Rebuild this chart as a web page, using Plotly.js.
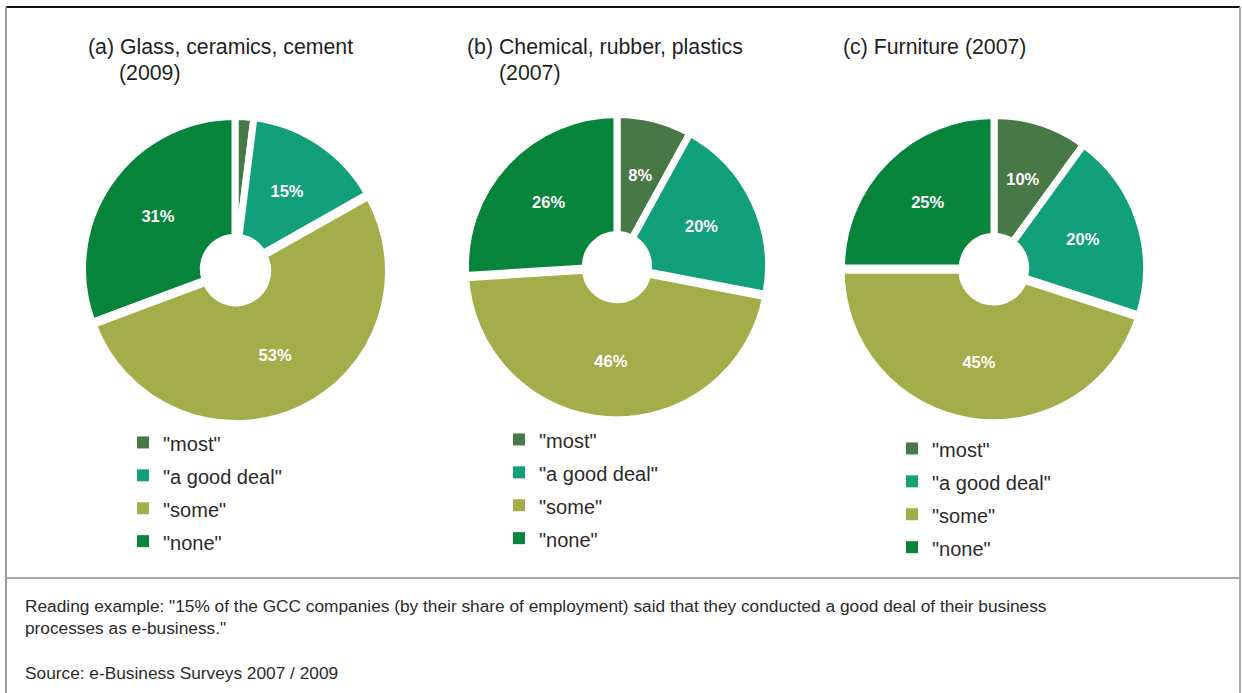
<!DOCTYPE html>
<html>
<head>
<meta charset="utf-8">
<script src="https://cdn.plot.ly/plotly-3.0.1.min.js"></script>
<style>
  html, body { margin: 0; padding: 0; background: #ffffff; }
  #chart { width: 1242px; height: 693px; }
</style>
</head>
<body>
<div id="chart"></div>
<script>
// ---- data ----
var categories = ['"most"', '"a good deal"', '"some"', '"none"'];
var valuesA = [2, 15, 53, 31];   // (a) Glass, ceramics, cement (2009) - "most" unlabelled sliver, estimated
var valuesB = [8, 20, 46, 26];   // (b) Chemical, rubber, plastics (2007)
var valuesC = [10, 20, 45, 25];  // (c) Furniture (2007)
var titleLines = [
  ['(a) Glass, ceramics, cement', '(2009)'],
  ['(b) Chemical, rubber, plastics', '(2007)'],
  ['(c) Furniture (2007)']
];
var captionLines = [
  'Reading example: "15% of the GCC companies (by their share of employment) said that they conducted a good deal of their business',
  'processes as e-business."',
  '',
  'Source: e-Business Surveys 2007 / 2009'
];

// ---- styling / layout helpers ----
var W = 1242, H = 693;
var colors = ['#487845', '#12a07b', '#a3ae4b', '#06853a'];
var FONT = 'Arial, "Liberation Sans", Helvetica, sans-serif';
function px(x) { return x / W; }
function py(y) { return 1 - y / H; }
var PULL = [0, 0, 0.015, 0];
var LINEW = 7;
var maxPull = Math.max.apply(null, PULL);
function domainFor(cx, cy, half) {
  return { x: [px(cx - half), px(cx + half)], y: [py(cy + half), py(cy - half)] };
}
var centers = [[235, 269, 149], [617, 266, 148], [994, 268, 149]];
var allValues = [valuesA, valuesB, valuesC];
var legendIds = ['legend', 'legend2', 'legend3'];
var legendLabels = categories.map(function (c) {
  return '<span style="font-size:20px">' + c + '</span>';
});
var LABEL_R = 117;   // outer radius of the (transparent) label ring
var LABEL_HOLE = 0.6;

var data = [];
allValues.forEach(function (vals, i) {
  var c = centers[i];
  var tt = vals.map(function () { return '%{value}%'; });
  if (i === 0) tt[0] = '';
  // visible donut
  data.push({
    type: 'pie',
    labels: categories,
    values: vals,
    sort: false,
    direction: 'clockwise',
    rotation: 0,
    hole: 0.208,
    pull: PULL,
    domain: domainFor(c[0], c[1], (c[2] + LINEW / 2) * (1 + maxPull)),
    marker: { colors: colors, line: { color: '#ffffff', width: LINEW } },
    textinfo: 'none',
    hoverinfo: 'label+percent',
    showlegend: false
  });
  // percentage labels, placed at mid-ring by a transparent ring of the same slices
  data.push({
    type: 'pie',
    labels: categories,
    values: vals,
    sort: false,
    direction: 'clockwise',
    rotation: 0,
    hole: LABEL_HOLE,
    pull: PULL,
    domain: domainFor(c[0], c[1], LABEL_R * (1 + maxPull)),
    marker: { colors: categories.map(function () { return 'rgba(0,0,0,0)'; }), line: { width: 0 } },
    texttemplate: tt,
    textposition: 'inside',
    insidetextorientation: 'horizontal',
    textfont: { family: FONT, size: 16.5, color: '#ffffff', weight: 'bold' },
    hoverinfo: 'skip',
    showlegend: false
  });
  // legend keys for this panel (same categories / values / colours)
  data.push({
    type: 'pie',
    labels: legendLabels,
    values: vals,
    sort: false,
    direction: 'clockwise',
    domain: { x: [0.0005 + i * 0.0001, 0.00055 + i * 0.0001], y: [0.0005, 0.00055] },
    marker: { colors: colors, line: { width: 0 } },
    textinfo: 'none',
    hoverinfo: 'skip',
    showlegend: true,
    legendgroup: 'panel' + i,
    legend: legendIds[i]
  });
});

function legendAt(x, y) {
  return {
    x: px(x), y: py(y), xanchor: 'left', yanchor: 'top',
    font: { family: FONT, size: 23, color: '#2b2b2b' },
    bgcolor: 'rgba(0,0,0,0)', borderwidth: 0, traceorder: 'normal'
  };
}

var annotations = [];
var titlePos = [[86, 465, 841], [117, 497]];
titleLines.forEach(function (lines, i) {
  annotations.push({
    xref: 'paper', yref: 'paper', x: px(titlePos[0][i]), y: py(47),
    xanchor: 'left', yanchor: 'middle', showarrow: false, text: lines[0],
    font: { family: FONT, size: 21.3, color: '#231f20' }
  });
  if (lines[1]) {
    annotations.push({
      xref: 'paper', yref: 'paper', x: px(titlePos[1][i]), y: py(73),
      xanchor: 'left', yanchor: 'middle', showarrow: false, text: lines[1],
      font: { family: FONT, size: 21.3, color: '#231f20' }
    });
  }
});
annotations.push({
  xref: 'paper', yref: 'paper', x: px(23), y: py(594),
  xanchor: 'left', yanchor: 'top', align: 'left', showarrow: false,
  text: captionLines.join('<br>'),
  font: { family: FONT, size: 17.3, color: '#2b2b2b' }
});

var shapes = [
  { type: 'line', xref: 'paper', yref: 'paper', x0: px(6), x1: px(1240), y0: py(7), y1: py(7), line: { color: '#111111', width: 2 } },
  { type: 'line', xref: 'paper', yref: 'paper', x0: px(6), x1: px(6), y0: py(7), y1: py(693), line: { color: '#9a9a9a', width: 2 } },
  { type: 'line', xref: 'paper', yref: 'paper', x0: px(1240), x1: px(1240), y0: py(7), y1: py(693), line: { color: '#a8a8a8', width: 2 } },
  { type: 'line', xref: 'paper', yref: 'paper', x0: px(6), x1: px(1240), y0: py(578), y1: py(578), line: { color: '#a8a8a8', width: 2 } }
];

var layout = {
  width: W, height: H,
  margin: { l: 0, r: 0, t: 0, b: 0 },
  paper_bgcolor: '#ffffff',
  font: { family: FONT },
  showlegend: true,
  legend: legendAt(123, 421),
  legend2: legendAt(499, 418),
  legend3: legendAt(892, 427),
  annotations: annotations,
  shapes: shapes
};

Plotly.newPlot('chart', data, layout, { displayModeBar: false, staticPlot: true });
</script>
</body>
</html>
